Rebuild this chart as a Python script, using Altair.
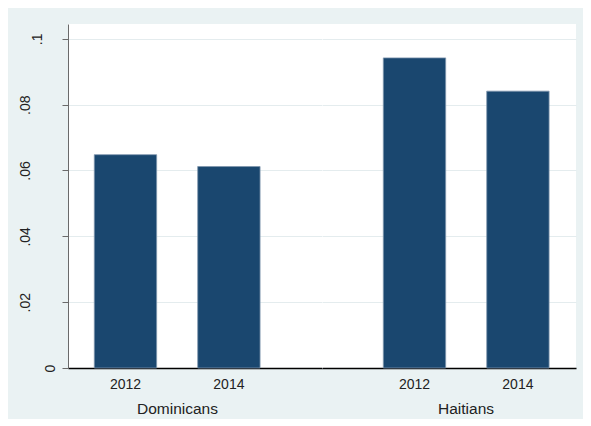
import altair as alt
import pandas as pd

groups = ["Dominicans", "Haitians"]
years = ["2012", "2014"]
dominicans = [0.0648, 0.0612]
haitians = [0.0942, 0.0841]
y_ticks = [0, 0.02, 0.04, 0.06, 0.08, 0.1]

BAR = "#1A476F"
FONT = "Liberation Sans"
TXT = "#222222"
GRID = "#E4ECEE"
AXG = "#6a6a6a"

yscale = alt.Scale(domain=[0, 0.1045], nice=False, zero=True)


def panel(vals, title, align, title_x, left):
    df = pd.DataFrame({"year": years, "value": vals})
    if left:
        yaxis = alt.Axis(
            values=y_ticks, title=None, grid=True, gridColor=GRID, gridWidth=1,
            labelAngle=270, labelAlign="center", labelBaseline="middle",
            labelExpr="datum.value == 0 ? '0' : slice(format(datum.value, '.2~f'), 1)",
            labelPadding={"condition": [
                {"test": "datum.value == 0", "value": 12},
                {"test": "datum.value >= 0.099", "value": 24.5}],
                "value": 36.5},
            labelFont=FONT, labelFontSize=14, labelColor=TXT,
            tickSize=6, tickColor=AXG, domainColor=AXG, domainWidth=1,
        )
    else:
        yaxis = alt.Axis(values=y_ticks, title=None, grid=True, gridColor=GRID,
                         gridWidth=1, labels=False, ticks=False, domain=False)
    xaxis = alt.Axis(
        title=title, labelAngle=0, ticks=False, tickSize=0, labelPadding=9,
        labelFont=FONT, labelFontSize=14, labelColor=TXT,
        domainColor="#000000", domainWidth=1.5,
        titleFont=FONT, titleFontSize=15.5, titleFontWeight="normal", titleColor=TXT,
        titleX=title_x, titleY=45, titleBaseline="alphabetic", titleAnchor="middle",
        titleAlign="center",
    )
    return alt.Chart(df).mark_bar(
        color=BAR, stroke="#7f96ad", strokeWidth=0.8
    ).encode(
        x=alt.X("year:N", axis=xaxis,
                scale=alt.Scale(paddingInner=0.397, paddingOuter=0.4265, align=align)),
        y=alt.Y("value:Q", scale=yscale, axis=yaxis),
    ).properties(width=254, height=344)


left = panel(dominicans, groups[0], 0.298, 109, True)
right = panel(haitians, groups[1], 0.695, 143.5, False)

chart = alt.hconcat(left, right, spacing=0, bounds="flush").properties(
    background="#EAF2F3",
    padding={"left": 10, "top": 16, "right": 7, "bottom": 2},
).configure_view(strokeWidth=0, fill="white")

chart.save("out.html", embed_options={"renderer": "svg", "actions": False})
